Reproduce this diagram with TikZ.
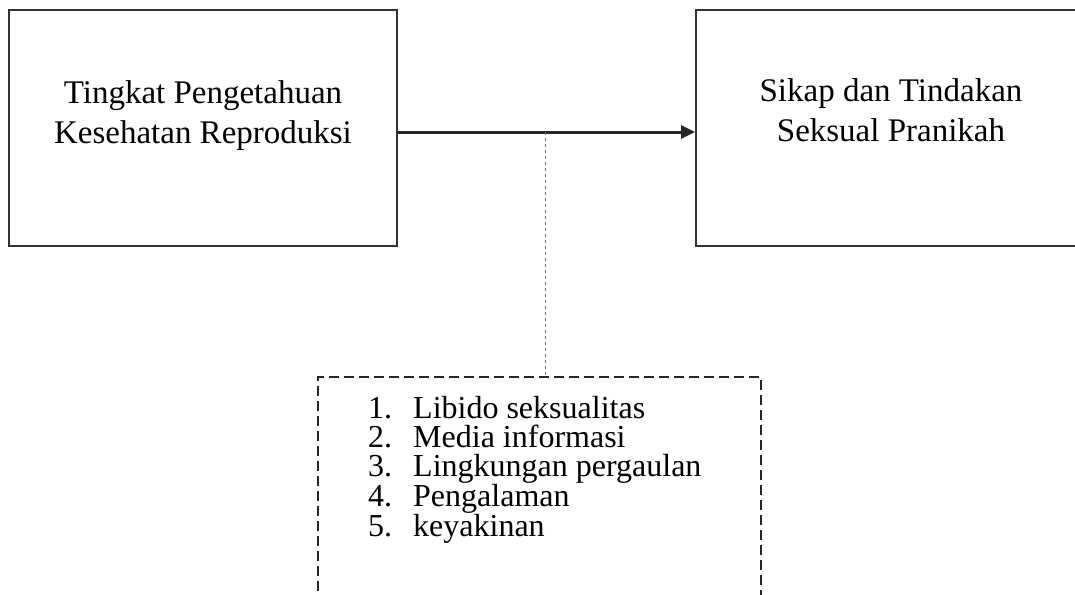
\documentclass[tikz,border=0pt]{standalone}
\usepackage{fontspec}
\setmainfont{Liberation Serif}
\usetikzlibrary{arrows.meta}
\tikzset{
  boxline/.style={draw=black!80, line width=2pt},
  solidbox/.style={boxline, rectangle, inner sep=0pt},
  dashbox/.style={draw=black!85, line width=2.2pt, dash pattern=on 10pt off 5pt, rectangle, inner sep=0pt},
  boxtext/.style={font=\fontsize{33}{40}\selectfont, align=center, inner sep=0pt, anchor=north},
  listtext/.style={font=\fontsize{32}{29}\selectfont, align=left, inner sep=0pt, anchor=north west},
  mainarrow/.style={draw=black!85, line width=3pt, -{Triangle[length=14pt,width=13pt]}},
  dotline/.style={draw=black!55, line width=1pt, dash pattern=on 3pt off 3pt}
}
\newcommand{\itm}[2]{\makebox[45pt][l]{#1}#2}
\begin{document}
\begin{tikzpicture}[x=1pt,y=-1pt]
\useasboundingbox (0,0) rectangle (1075,594);
\clip (0,0) rectangle (1075,594);
\fill[white] (0,0) rectangle (1075,594);
% boxes
\node[solidbox, minimum width=388pt, minimum height=236pt] (L) at (203,128) {};
\node[solidbox, minimum width=390pt, minimum height=236pt] (R) at (891,128) {};
\node[dashbox, minimum width=443pt, minimum height=260pt] (D) at (539.5,507) {};
% texts
\node[boxtext] (Lt) at (203,80) {Tingkat Pengetahuan\\Kesehatan Reproduksi};
\node[boxtext] (Rt) at (891,78) {Sikap dan Tindakan\\Seksual Pranikah};
\node[listtext] (Dt) at (368,396) {\itm{1.}{Libido seksualitas}\\\itm{2.}{Media informasi}\\\itm{3.}{Lingkungan pergaulan}\\\itm{4.}{Pengalaman}\\\itm{5.}{keyakinan}};
% connectors
\draw[mainarrow] ([yshift=-4pt]L.east) -- ([yshift=-4pt]R.west);
\coordinate (m) at (545,132);
\draw[dotline] (m) -- (m |- D.north);
\end{tikzpicture}
\end{document}
